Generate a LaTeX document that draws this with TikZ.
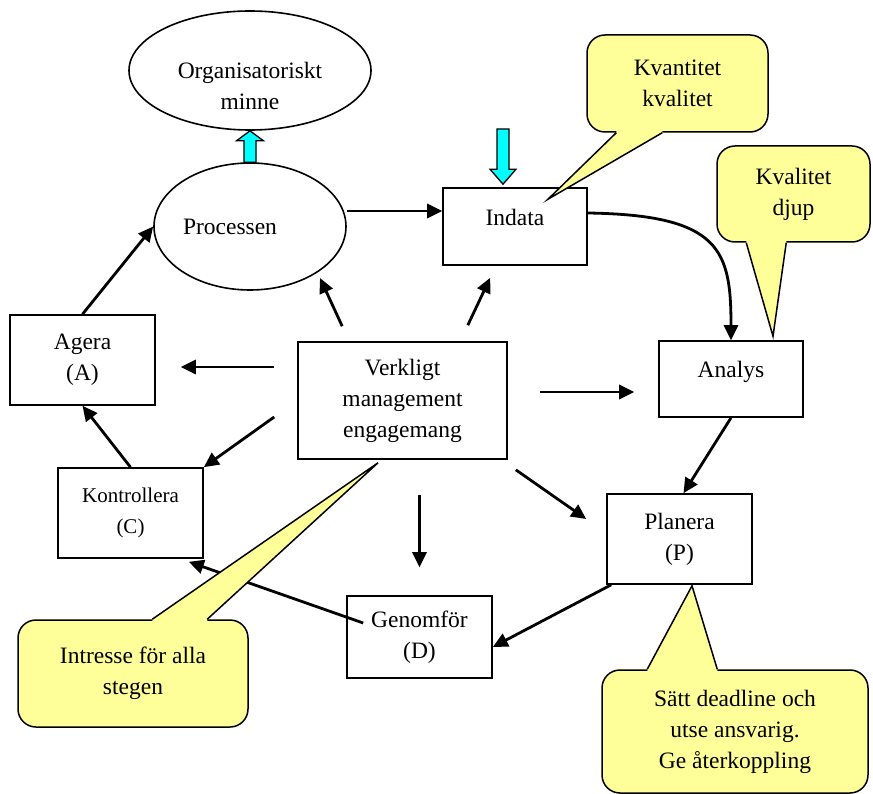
\documentclass[tikz,border=0pt]{standalone}
\usepackage{fontspec}
\setmainfont{Liberation Serif}
\usepackage{xcolor}
\usetikzlibrary{arrows.meta, positioning, shapes.geometric}
\definecolor{notegul}{HTML}{FFFF99}
\definecolor{turkos}{RGB}{0,255,255}

\begin{document}
\begin{tikzpicture}[
  x=1pt, y=-1pt,
  font=\fontsize{23.5}{31}\selectfont,
  stepbox/.style={
    rectangle,
    draw=black,
    line width=1.6pt,
    minimum width=145pt,
    minimum height=90pt,
    align=center
  },
  oval/.style={
    ellipse,
    draw=black,
    line width=1.6pt,
    inner sep=0pt,
    align=center
  },
  notis/.style={
    rectangle,
    draw=black,
    fill=notegul,
    line width=1.5pt,
    rounded corners=18pt,
    align=center
  },
  pekare/.style={
    draw=black,
    line width=1.5pt,
    line join=miter
  },
  flow/.style={
    -{Triangle[length=15pt,width=14pt]},
    line width=2.8pt,
    draw=black
  },
  bigarrow/.style={
    draw=black,
    fill=turkos,
    line width=1.3pt
  }
]
\useasboundingbox (0,0) rectangle (873,794);

% Cycle
\node[oval, minimum width=242pt, minimum height=119pt] (minne) at (250,70.5)
  {\rule{0pt}{48pt}Organisatoriskt\\minne};
\node[oval, minimum width=192pt, minimum height=127pt] (proc) at (250,226.5)
  {Processen\hspace*{40pt}};
\node[stepbox, minimum width=144pt, minimum height=77pt, text depth=19pt] (indata) at (515,226.5) {Indata};
\node[stepbox, minimum width=144pt, minimum height=76pt, text depth=20pt] (analys) at (731,379) {Analys};
\node[stepbox] (agera) at (82.5,360) {Agera\\(A)};
\node[stepbox, font=\fontsize{21}{31}\selectfont] (kontr) at (130.5,513) {Kontrollera\\(C)};
\node[stepbox, minimum width=209pt, minimum height=117pt] (verk) at (402.5,400.5)
  {Verkligt\\management\\engagemang};
\node[stepbox] (planera) at (679.5,539) {Planera\\(P)};
\node[stepbox, minimum height=82pt] (genom) at (419.5,637) {Genomför\\(D)};

% Cycle arrows
\draw[flow] ([yshift=15.5pt]proc.east) -- ([yshift=15.5pt]indata.west);
\draw[flow] ([yshift=13.5pt]indata.east) .. controls +(133,2) and +(0,-90) .. (analys.north);
\draw[flow] (analys.south) -- ([xshift=4pt]planera.north);
\draw[flow] ([xshift=5pt]planera.south west) -- ([yshift=-10pt]genom.east);
\draw[flow] ([xshift=17pt,yshift=14pt]genom.west) -- ([xshift=-15pt,yshift=-3pt]kontr.south east);
\draw[flow] (kontr.north) -- (agera.south);
\draw[flow] (agera.north) -- (proc.west);

% Management arrows
\draw[flow] ([xshift=45pt,yshift=15pt]verk.north west) -- ([xshift=70pt,yshift=-51.5pt]proc.center);
\draw[flow] ([xshift=-40pt,yshift=16pt]verk.north east) -- ([xshift=48pt,yshift=-12pt]indata.south west);
\draw[flow] ([xshift=32pt,yshift=8.5pt]verk.east) -- ([xshift=-24pt,yshift=-13pt]analys.west);
\draw[flow] ([xshift=8pt,yshift=-10pt]verk.south east) -- ([xshift=-20pt,yshift=20pt]planera.west);
\draw[flow] ([xshift=17pt,yshift=-35pt]verk.south) -- ([yshift=28pt]genom.north);
\draw[flow] ([xshift=-23pt,yshift=-16.5pt]verk.west) -- (kontr.north east);
\draw[flow] ([xshift=-23pt,yshift=33.5pt]verk.west) -- ([xshift=25pt,yshift=-7pt]agera.east);

% Block arrows
\draw[bigarrow] ([xshift=-6pt]proc.north) -- ([xshift=-6pt,yshift=-10pt]minne.south)
  -- ([xshift=-13.5pt,yshift=-10pt]minne.south) -- (minne.south)
  -- ([xshift=13.5pt,yshift=-10pt]minne.south) -- ([xshift=6pt,yshift=-10pt]minne.south)
  -- ([xshift=6pt]proc.north) -- cycle;
\coordinate (inkalla) at (503,129);
\draw[bigarrow] ([xshift=-6pt]inkalla) -- ([xshift=-18pt,yshift=18pt]indata.north)
  -- ([xshift=-25pt,yshift=18pt]indata.north) -- ([xshift=-12pt,yshift=3pt]indata.north)
  -- ([xshift=1pt,yshift=18pt]indata.north) -- ([xshift=-6pt,yshift=18pt]indata.north)
  -- ([xshift=6pt]inkalla) -- cycle;

% Callouts
\node[notis, minimum width=181pt, minimum height=97pt] (kvant) at (677.5,83.5) {Kvantitet\\kvalitet};
\coordinate (kvantspets) at ([xshift=33pt,yshift=-12pt]indata.north);
\fill[notegul] ([xshift=30pt,yshift=3pt]kvant.south west) -- ([xshift=30pt]kvant.south west)
  -- (kvantspets) -- ([xshift=76pt]kvant.south west) -- ([xshift=76pt,yshift=3pt]kvant.south west) -- cycle;
\draw[pekare] ([xshift=30pt]kvant.south west) -- (kvantspets) -- ([xshift=76pt]kvant.south west);

\node[notis, minimum width=153pt, minimum height=96pt] (kval) at (793.5,194) {Kvalitet\\djup};
\coordinate (kvalspets) at ([xshift=42pt,yshift=4pt]analys.north);
\fill[notegul] ([xshift=30pt,yshift=3pt]kval.south west) -- ([xshift=30pt]kval.south west)
  -- (kvalspets) -- ([xshift=70pt]kval.south west) -- ([xshift=70pt,yshift=3pt]kval.south west) -- cycle;
\draw[pekare] ([xshift=30pt]kval.south west) -- (kvalspets) -- ([xshift=70pt]kval.south west);

\node[notis, minimum width=230pt, minimum height=107pt] (intr) at (133,673.5) {Intresse för alla\\stegen};
\coordinate (intrspets) at ([xshift=-24.5pt,yshift=-3pt]verk.south);
\fill[notegul] ([xshift=135pt,yshift=-3pt]intr.north west) -- ([xshift=135pt]intr.north west)
  -- (intrspets) -- ([xshift=190pt]intr.north west) -- ([xshift=190pt,yshift=-3pt]intr.north west) -- cycle;
\draw[pekare] ([xshift=135pt]intr.north west) -- (intrspets) -- ([xshift=190pt]intr.north west);

\node[notis, minimum width=266pt, minimum height=123pt] (satt) at (735,731.5)
  {Sätt deadline och\\utse ansvarig.\\Ge återkoppling};
\coordinate (sattspets) at ([xshift=12.5pt,yshift=-1pt]planera.south);
\fill[notegul] ([xshift=46pt,yshift=-3pt]satt.north west) -- ([xshift=46pt]satt.north west)
  -- (sattspets) -- ([xshift=116pt]satt.north west) -- ([xshift=116pt,yshift=-3pt]satt.north west) -- cycle;
\draw[pekare] ([xshift=46pt]satt.north west) -- (sattspets) -- ([xshift=116pt]satt.north west);
\end{tikzpicture}
\end{document}
